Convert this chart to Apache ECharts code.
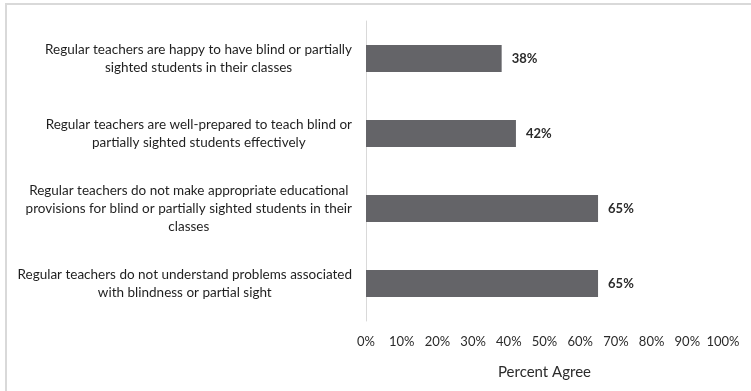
<!DOCTYPE html>
<html>
<head>
<meta charset="utf-8">
<script src="https://cdn.jsdelivr.net/npm/echarts@6/dist/echarts.min.js"></script>
<style>
  html, body { margin: 0; padding: 0; background: #fff; }
  #chart { width: 751px; height: 391px; }
</style>
</head>
<body>
<div id="chart"></div>
<script>
// Survey statements (top to bottom) and share of respondents who agree
const statements = [
  'Regular teachers are happy to have blind or partially\nsighted students in their classes',
  'Regular teachers are well-prepared to teach blind or\npartially sighted students effectively',
  'Regular teachers do not make appropriate educational\nprovisions for blind or partially sighted students in their\nclasses',
  'Regular teachers do not understand problems associated\nwith blindness or partial sight'
];
const percentAgree = [38, 42, 65, 65];
const axisTicks = [0, 10, 20, 30, 40, 50, 60, 70, 80, 90, 100];

const chart = echarts.init(document.getElementById('chart'));
const font = 'Lato, "Open Sans", sans-serif';

chart.setOption({
  animation: false,
  backgroundColor: '#fff',
  graphic: [{
    type: 'rect',
    shape: { x: 6, y: 4, width: 800, height: 500 },
    style: { fill: 'none', stroke: '#d9d9d9', lineWidth: 2 },
    silent: true
  }],
  grid: { left: 366, right: 28, top: 21, bottom: 70, containLabel: false },
  xAxis: {
    type: 'value',
    min: axisTicks[0],
    max: axisTicks[axisTicks.length - 1],
    interval: axisTicks[1] - axisTicks[0],
    name: 'Percent Agree',
    nameLocation: 'middle',
    nameGap: 44,
    nameTextStyle: { fontFamily: font, fontSize: 15, color: '#2b2b2b' },
    axisLine: { show: false },
    axisTick: { show: false },
    splitLine: { show: false },
    axisLabel: {
      margin: 14,
      fontFamily: font,
      fontSize: 13,
      color: '#2b2b2b',
      formatter: v => v + '%'
    }
  },
  yAxis: {
    type: 'category',
    inverse: true,
    data: statements,
    axisLine: { show: true, lineStyle: { color: '#d9d9d9', width: 1 } },
    axisTick: { show: false },
    axisLabel: {
      // block sits right-aligned next to the axis, lines centred inside it
      margin: 14,
      align: 'right',
      formatter: v => v.split('\n').map(s => '{t|' + s + '}').join('\n'),
      rich: {
        t: {
          align: 'center',
          fontFamily: font,
          fontSize: 13.5,
          lineHeight: 18,
          color: '#1f1f1f'
        }
      }
    }
  },
  series: [{
    type: 'bar',
    data: percentAgree,
    barWidth: 27,
    itemStyle: { color: '#646468' },
    label: {
      show: true,
      position: 'right',
      distance: 10,
      fontFamily: font,
      fontSize: 13,
      fontWeight: 'bold',
      color: '#2b2b2b',
      formatter: p => p.value + '%'
    }
  }]
});
</script>
</body>
</html>
